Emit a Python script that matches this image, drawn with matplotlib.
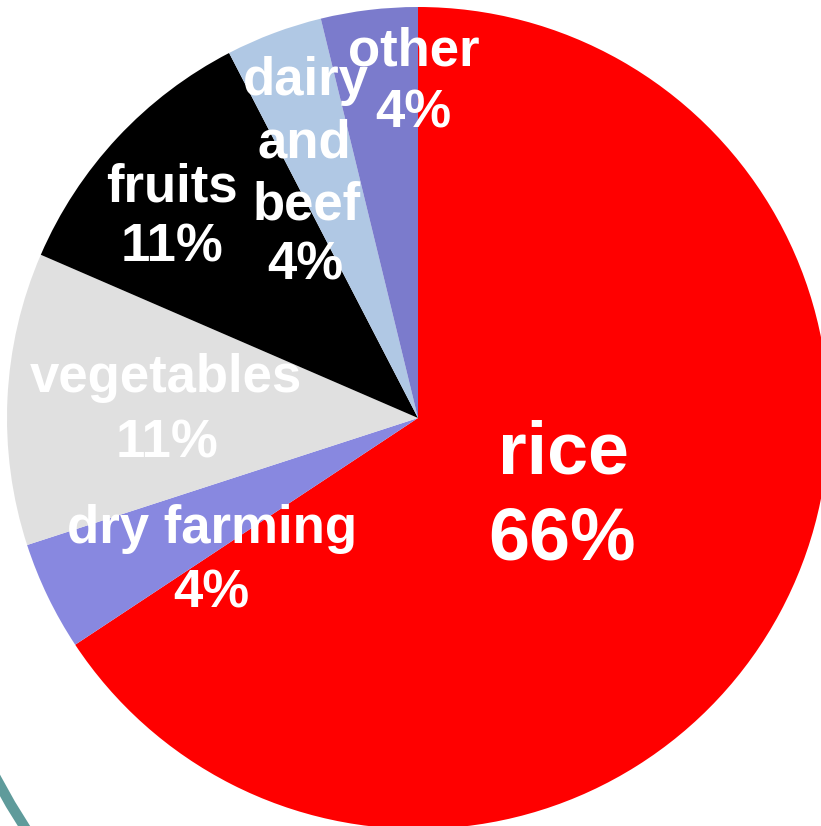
import matplotlib
matplotlib.use("Agg")
import matplotlib.pyplot as plt
from matplotlib.patches import Arc

# ---- data ----
categories = ["rice", "dry farming", "vegetables", "fruits", "dairy and beef", "other"]
shares = [65.7, 4.3, 11.5, 10.9, 3.8, 3.8]
colors = ["#FF0000", "#8888E0", "#E0E0E0", "#000000", "#B0C8E4", "#7B7BCC"]

# label line texts per slice
label_lines = {
    "rice": ["rice", "66%"],
    "dry farming": ["dry farming", "4%"],
    "vegetables": ["vegetables", "11%"],
    "fruits": ["fruits", "11%"],
    "dairy and beef": ["dairy", "and", "beef", "4%"],
    "other": ["other", "4%"],
}

# ---- layout (pixel space, y measured from top) ----
W, H = 821, 826
pie_cx, pie_cy, pie_r = 418, 418, 411
label_layout = {
    "rice": [(563, 473), (562, 559)],
    "dry farming": [(212, 543), (211, 607)],
    "vegetables": [(166, 392), (167, 457)],
    "fruits": [(172, 202), (172, 262)],
    "dairy and beef": [(306, 95), (304, 157), (307, 220), (305, 280)],
    "other": [(414, 65), (413, 128)],
}
label_size = {"rice": 53}
default_size = 38

plt.rcParams['font.family'] = ['Liberation Sans', 'DejaVu Sans']

fig = plt.figure(figsize=(W / 100, H / 100), dpi=100)
fig.patch.set_facecolor("white")
ax = fig.add_axes([0, 0, 1, 1])

ax.pie(shares, colors=colors, startangle=90, counterclock=False,
       center=(pie_cx, H - pie_cy), radius=pie_r,
       wedgeprops=dict(linewidth=0, antialiased=True))

for cat in categories:
    for (x, y), line in zip(label_layout[cat], label_lines[cat]):
        ax.text(x, H - y, line, ha="center", va="baseline",
                fontsize=label_size.get(cat, default_size),
                fontweight="bold", color="white")

# decorative teal ring fragment at bottom-left
ax.add_patch(Arc((545, H - 490), 2 * 620, 2 * 620, theta1=195, theta2=240,
                 color="#5F9B9B", linewidth=7.5))

ax.set_xlim(0, W)
ax.set_ylim(0, H)
ax.set_aspect("equal")
ax.axis("off")

fig.savefig("out.png", dpi=100, facecolor="white")
